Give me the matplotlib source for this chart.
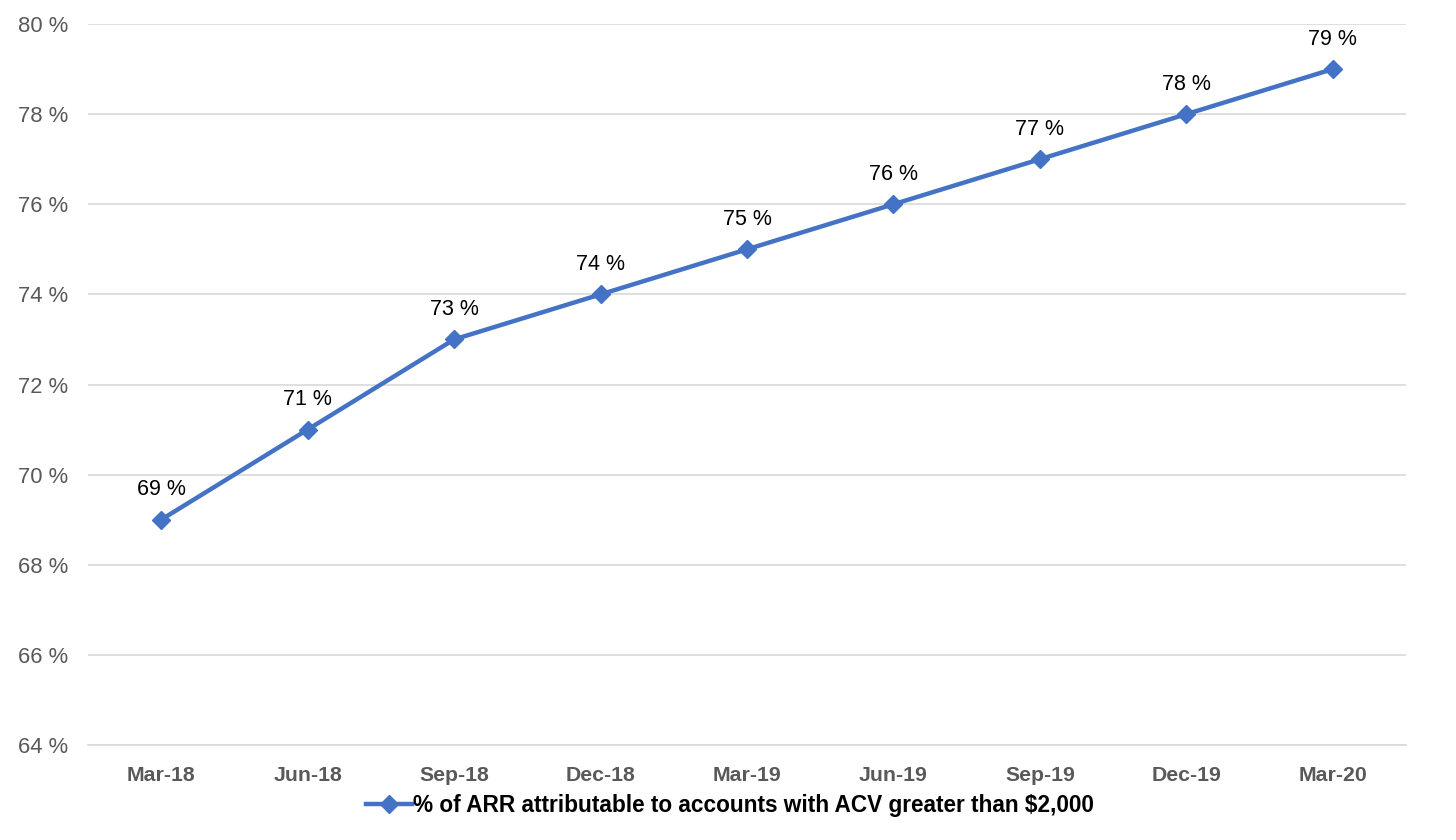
import matplotlib.pyplot as plt
import numpy as np

plt.rcParams['font.family'] = ['Liberation Sans', 'DejaVu Sans']

quarters = ['Mar-18', 'Jun-18', 'Sep-18', 'Dec-18', 'Mar-19', 'Jun-19', 'Sep-19', 'Dec-19', 'Mar-20']
share = [69, 71, 73, 74, 75, 76, 77, 78, 79]
series_name = '% of ARR attributable to accounts with ACV greater than $2,000'

fig = plt.figure(figsize=(14.56, 8.4), dpi=100)
ax = fig.add_axes([0.0604, 0.1131, 0.9053, 0.8583])

x = np.arange(len(quarters))
ax.plot(x, share, color='#4472C4', linewidth=3.2, marker='D', markersize=9,
        label=series_name)

for xi, v in zip(x, share):
    ax.annotate(f'{v} %', (xi, v), xytext=(0, 14), textcoords='offset points',
                ha='center', va='bottom', fontsize=15.5, color='black')

ax.set_xlim(-0.5, len(quarters) - 0.5)
ax.set_ylim(64, 80)
ax.set_yticks(np.arange(64, 81, 2))
ax.set_yticklabels([f'{t} %' for t in range(64, 81, 2)], fontsize=15.8, color='#595959')
ax.set_xticks(x)
ax.set_xticklabels(quarters, fontsize=15.3, fontweight='bold', color='#595959')
ax.tick_params(axis='both', length=0)
ax.tick_params(axis='x', pad=15)
ax.tick_params(axis='y', pad=14)

ax.grid(axis='y', color='#D9D9D9', linewidth=1.2)
ax.set_axisbelow(True)
for s in ['top', 'right', 'left']:
    ax.spines[s].set_visible(False)
ax.spines['bottom'].set_color('#D9D9D9')
ax.spines['bottom'].set_linewidth(1.2)

leg = fig.legend(loc='center', bbox_to_anchor=(0.5014, 0.041), frameon=False,
                 prop={'size': 16.3, 'weight': 'bold'}, handlelength=2.0,
                 handletextpad=0.05)

fig.savefig('out.png', dpi=100)
